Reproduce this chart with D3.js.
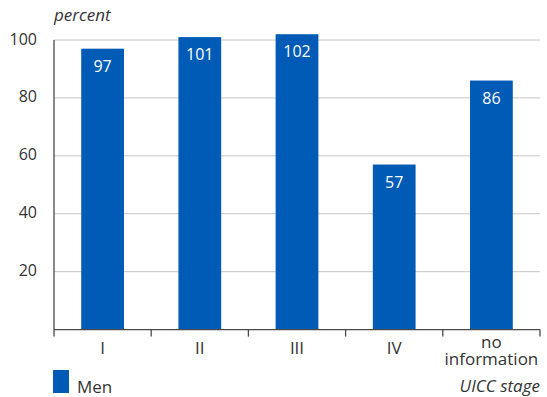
<!DOCTYPE html>
<html>
<head>
<meta charset="utf-8">
<script src="https://cdn.jsdelivr.net/npm/d3@7"></script>
<style>
  html, body { margin: 0; padding: 0; background: #fff; }
  svg { display: block; font-family: "Open Sans", "Noto Sans", sans-serif; }
</style>
</head>
<body>
<svg id="chart" width="547" height="397"></svg>
<script>
// UICC stage categories and relative survival (percent) for men
const stages = ["I", "II", "III", "IV", "no information"];
const values = [97, 101, 102, 57, 86];
const yTicks = [20, 40, 60, 80, 100];
const seriesName = "Men";

const svg = d3.select("#chart");
const plotLeft = 54, plotRight = 540, plotTop = 40, plotBottom = 329.6;
const barColor = "#005bb7";
const textColor = "#333";
const wordSize = 17, numSize = 16;

const x = d3.scaleBand().domain(stages).range([plotLeft, plotRight]).paddingInner(0.56).paddingOuter(0.28);
const y = d3.scaleLinear().domain([0, 100]).range([plotBottom, plotTop]);

// horizontal gridlines
svg.append("g")
  .selectAll("line")
  .data(yTicks)
  .join("line")
  .attr("x1", plotLeft).attr("x2", plotRight)
  .attr("y1", d => y(d)).attr("y2", d => y(d))
  .attr("stroke", "#c6c6c6").attr("stroke-width", 1);

// y tick labels
svg.append("g")
  .selectAll("text")
  .data(yTicks)
  .join("text")
  .attr("x", 37).attr("y", d => y(d) + 4.5)
  .attr("text-anchor", "end")
  .attr("font-size", numSize)
  .attr("fill", textColor)
  .text(d => d);

// bars
svg.append("g")
  .selectAll("rect")
  .data(values)
  .join("rect")
  .attr("x", (d, i) => x(stages[i]))
  .attr("width", x.bandwidth())
  .attr("y", d => y(d))
  .attr("height", d => y(0) - y(d))
  .attr("fill", barColor);

// value labels inside bars
svg.append("g")
  .selectAll("text")
  .data(values)
  .join("text")
  .attr("x", (d, i) => x(stages[i]) + x.bandwidth() / 2)
  .attr("y", d => y(d) + 23)
  .attr("text-anchor", "middle")
  .attr("font-size", numSize)
  .attr("fill", "#fff")
  .text(d => d);

// x axis with category separators
const axisColor = "#4a4a4a";
svg.append("line")
  .attr("x1", plotLeft).attr("x2", plotRight)
  .attr("y1", plotBottom).attr("y2", plotBottom)
  .attr("stroke", axisColor).attr("stroke-width", 1.3);
svg.append("line")
  .attr("x1", plotLeft).attr("x2", plotLeft)
  .attr("y1", plotTop).attr("y2", plotBottom + 7)
  .attr("stroke", axisColor).attr("stroke-width", 1.3);
const bounds = stages.map((s, i) => plotLeft + (i + 1) * (plotRight - plotLeft) / stages.length);
svg.append("g")
  .selectAll("line")
  .data(bounds)
  .join("line")
  .attr("x1", d => d).attr("x2", d => d)
  .attr("y1", plotBottom).attr("y2", plotBottom + 7)
  .attr("stroke", axisColor).attr("stroke-width", 1.3);

// category labels (long one wrapped onto two lines)
const catG = svg.append("g");
stages.forEach(s => {
  const cx = x(s) + x.bandwidth() / 2;
  const words = s === "no information" ? ["no", "information"] : [s];
  if (words.length === 1) {
    catG.append("text")
      .attr("x", cx).attr("y", 354)
      .attr("text-anchor", "middle")
      .attr("font-size", wordSize)
      .attr("fill", textColor)
      .text(s);
  } else {
    words.forEach((w, j) => {
      catG.append("text")
        .attr("x", cx).attr("y", 348 + j * 17)
        .attr("text-anchor", "middle")
        .attr("font-size", wordSize)
        .attr("fill", textColor)
        .text(w);
    });
  }
});

// axis titles
svg.append("text")
  .attr("x", 54).attr("y", 21)
  .attr("font-size", wordSize).attr("font-style", "italic")
  .attr("fill", textColor)
  .text("percent");
svg.append("text")
  .attr("x", 540).attr("y", 392)
  .attr("text-anchor", "end")
  .attr("font-size", wordSize).attr("font-style", "italic")
  .attr("fill", textColor)
  .text("UICC stage");

// legend
svg.append("rect")
  .attr("x", 53).attr("y", 370).attr("width", 16).attr("height", 23)
  .attr("fill", barColor);
svg.append("text")
  .attr("x", 77).attr("y", 393)
  .attr("font-size", wordSize)
  .attr("fill", textColor)
  .text(seriesName);
</script>
</body>
</html>
